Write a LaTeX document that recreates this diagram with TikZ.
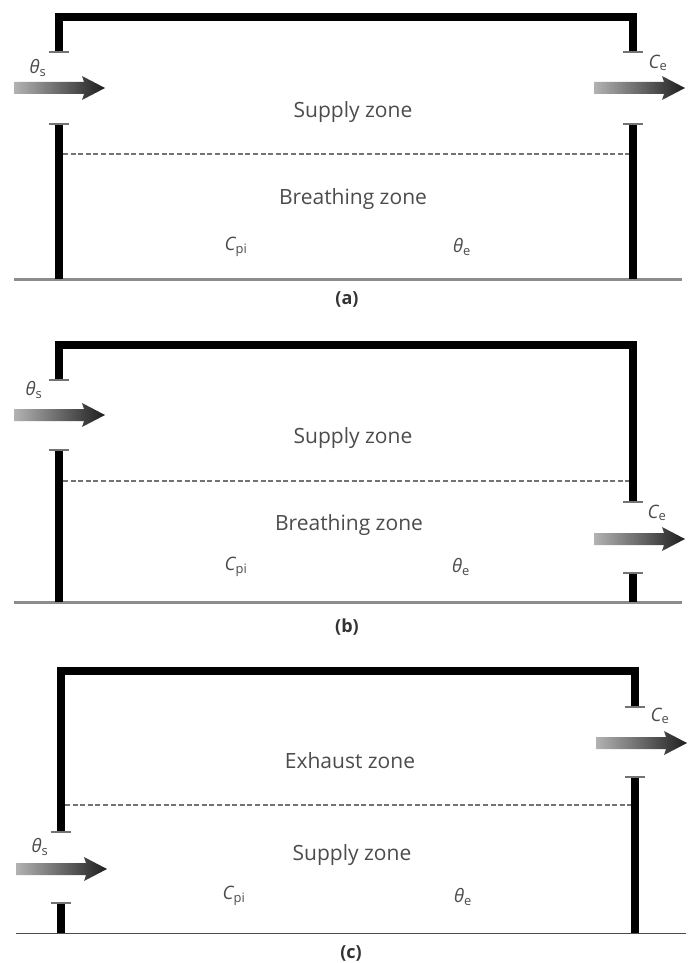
\documentclass[tikz,border=0pt]{standalone}
\usepackage{fontspec}
\setmainfont{Open Sans}
\tikzset{
  x=1pt,y=-1pt,
  wallline/.style={line width=8pt,black,line cap=butt,line join=miter},
  capline/.style={line width=1.4pt,black!55},
  floorline/.style={line width=2.2pt,black!45},
  floorthin/.style={line width=1.2pt,black!70},
  zoneline/.style={line width=1.5pt,black!55,dash pattern=on 5pt off 2.6pt},
  zonetext/.style={font=\fontsize{21}{24}\selectfont,text=black!70,inner sep=0pt},
  symtext/.style={font=\fontsize{18.5}{22}\selectfont,text=black!70,inner sep=0pt},
  captext/.style={font=\fontsize{18}{22}\selectfont\bfseries,text=black!80,inner sep=0pt},
}
% flow arrow: #1 left end x, #2 centre y
\newcommand{\flowarrow}[2]{%
  \shade[left color=black!30,right color=black!88,shading angle=90]
    (#1,#2-6) -- (#1+70,#2-6) -- (#1+68,#2-12) -- (#1+91,#2) -- (#1+68,#2+12) -- (#1+70,#2+6) -- (#1,#2+6) -- cycle;}
\newcommand{\capped}[2]{\draw[capline] (#1-10,#2) -- (#1+10,#2);}
\newcommand{\symC}[1]{{\itshape C}\textsubscript{#1}}
\newcommand{\symT}[1]{{\itshape θ}\textsubscript{#1}}
\begin{document}
\begin{tikzpicture}
\useasboundingbox[fill=white] (0,0) rectangle (692,963);

% ---------- panel (a)
\draw[floorline] (14,279.5) -- (682,279.5);
\draw[wallline] (59,52) -- (59,17.5) -- (633,17.5) -- (633,52);
\draw[wallline] (59,124) -- (59,279);
\draw[wallline] (633,124) -- (633,279);
\capped{59}{52}\capped{59}{124}\capped{633}{52}\capped{633}{124}
\draw[zoneline] (63,154) -- (629,154);
\flowarrow{14}{88}
\flowarrow{594}{88}
\node[zonetext] (az1) at (353,112) {Supply zone};
\node[zonetext] (az2) at (353,199) {Breathing zone};
\node[symtext] (aC) at (236,247) {\symC{pi}};
\node[symtext] (aT) at (462,247) {\symT{e}};
\node[symtext] (aS) at (38,68) {\symT{s}};
\node[symtext] (aE) at (658,63) {\symC{e}};
\node[captext] (ac) at (347,299) {(a)};

% ---------- panel (b)
\draw[floorline] (14,602.5) -- (682,602.5);
\draw[wallline] (59,380) -- (59,345) -- (633,345) -- (633,502);
\draw[wallline] (59,450) -- (59,602);
\draw[wallline] (633,573) -- (633,602);
\capped{59}{380}\capped{59}{450}\capped{633}{502}\capped{633}{573}
\draw[zoneline] (63,481) -- (629,481);
\flowarrow{14}{415}
\flowarrow{594}{539}
\node[zonetext] (bz1) at (353,438) {Supply zone};
\node[zonetext] (bz2) at (349,525) {Breathing zone};
\node[symtext] (bC) at (236,567) {\symC{pi}};
\node[symtext] (bT) at (461,567) {\symT{e}};
\node[symtext] (bS) at (34,390) {\symT{s}};
\node[symtext] (bE) at (657,513) {\symC{e}};
\node[captext] (bc) at (347,627) {(b)};

% ---------- panel (c)
\draw[floorthin] (16,933.5) -- (686,933.5);
\draw[wallline] (60.5,832) -- (60.5,671) -- (635,671) -- (635,707);
\draw[wallline] (60.5,903) -- (60.5,933);
\draw[wallline] (635,777) -- (635,933);
\capped{60.5}{832}\capped{60.5}{903}\capped{635}{707}\capped{635}{777}
\draw[zoneline] (65,805) -- (631,805);
\flowarrow{16}{869}
\flowarrow{596}{743}
\node[zonetext] (cz1) at (350,761) {Exhaust zone};
\node[zonetext] (cz2) at (352,855) {Supply zone};
\node[symtext] (cC) at (234,896) {\symC{pi}};
\node[symtext] (cT) at (463,897) {\symT{e}};
\node[symtext] (cS) at (40,847) {\symT{s}};
\node[symtext] (cE) at (660,716) {\symC{e}};
\node[captext] (cc) at (351,953) {(c)};
\end{tikzpicture}
\end{document}
